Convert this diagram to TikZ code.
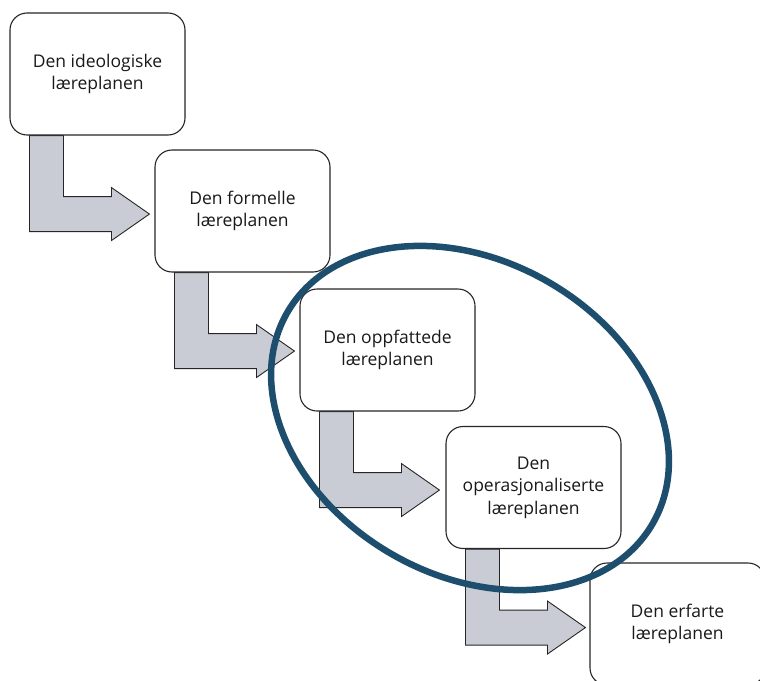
\documentclass[tikz,border=0pt]{standalone}
\usepackage{fontspec}
\setmainfont{Open Sans}
\usetikzlibrary{backgrounds}
\definecolor{ringblue}{HTML}{1D4E6E}
\definecolor{arrowfill}{HTML}{C9CCD4}
\definecolor{edgegray}{HTML}{262626}
\tikzset{
  stagebox/.style={draw=edgegray, line width=1.1pt, fill=white, rounded corners=17pt,
    minimum width=175pt, minimum height=122pt, align=center, inner sep=0pt,
    font=\fontsize{17.5pt}{22.5pt}\selectfont, text=black!90},
  bentarrow/.pic={
    \draw[fill=arrowfill, draw=edgegray, line width=0.9pt, line join=miter]
      (20,0) -- (54,0) -- (54,61) -- (102,61) -- (102,52) -- (140,78.5)
      -- (102,105) -- (102,96) -- (20,96) -- cycle;
  }
}
\begin{document}
\begin{tikzpicture}[x=1pt, y=-1pt]
\useasboundingbox (0,0) rectangle (760,680);
\clip (0,0) rectangle (760,680);
\node[stagebox] (b1) at (97.5,74) {Den ideologiske\\læreplanen};
\node[stagebox] (b2) at (242.5,211) {Den formelle\\læreplanen};
\node[stagebox] (b3) at (387.5,350) {Den oppfattede\\læreplanen};
\node[stagebox] (b4) at (533.5,487.5) {Den\\operasjonaliserte\\læreplanen};
\node[stagebox] (b5) at (677.5,624) {Den erfarte\\læreplanen};
\begin{scope}[on background layer]
  \pic at (b1.south west) {bentarrow};
  \pic at (b2.south west) {bentarrow};
  \pic at (b3.south west) {bentarrow};
  \pic at (b4.south west) {bentarrow};
\end{scope}
\coordinate (ringc) at (470,418);
\draw[ringblue, line width=6.5pt, rotate around={-30:(ringc)}]
  (ringc) ellipse [x radius=211pt, y radius=157pt];
\end{tikzpicture}
\end{document}
